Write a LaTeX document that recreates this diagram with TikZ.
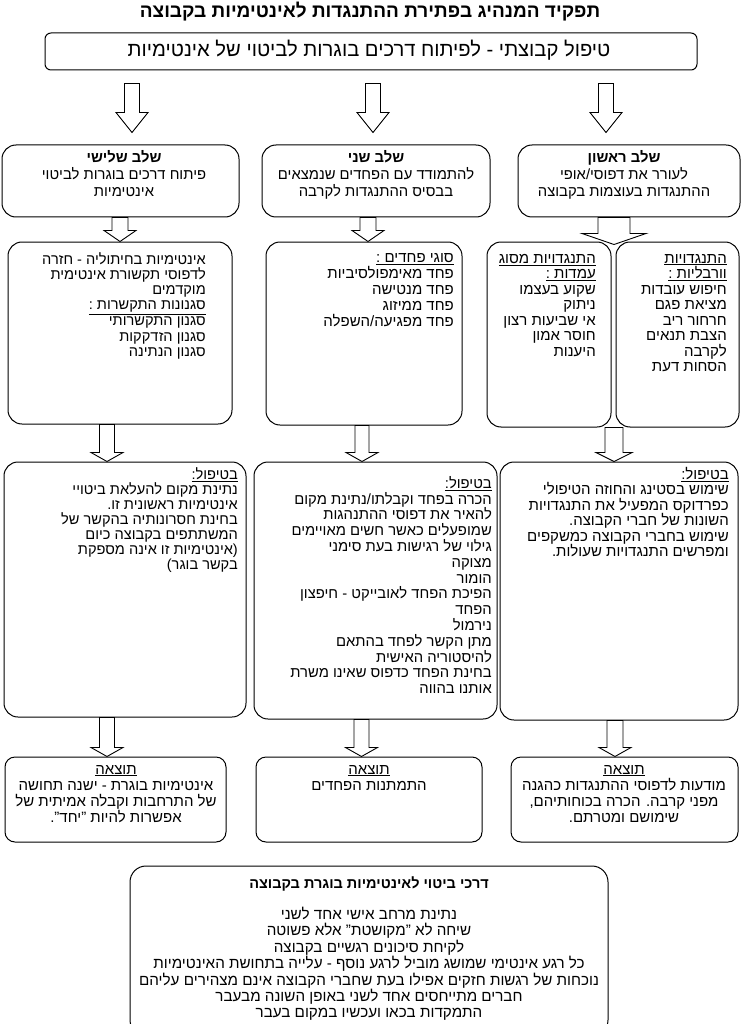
\documentclass[tikz,border=0pt]{standalone}
\usepackage{fontspec}
\setmainfont[Script=Hebrew]{Liberation Sans}
\TeXXeTstate=1
\usetikzlibrary{calc}
\newcommand\rl[1]{\beginR #1\endR}
\newcommand\ul[1]{\underline{\beginR #1\endR}}
\newcommand\blockarr[8]{%
  \draw[blockarrow] let \p1=(#1), \p2=(#2) in
   ({#3pt-#4pt},{\y1-#7pt}) -- ({#3pt-#4pt},{\y2+#8pt+#6pt}) -- ({#3pt-#5pt},{\y2+#8pt+#6pt})
   -- ({#3pt},{\y2+#8pt}) -- ({#3pt+#5pt},{\y2+#8pt+#6pt}) -- ({#3pt+#4pt},{\y2+#8pt+#6pt})
   -- ({#3pt+#4pt},{\y1-#7pt}) -- cycle;}
\tikzset{
  box/.style={draw, line width=1pt, rounded corners=14pt, inner sep=0pt, fill=white},
  txt/.style={inner sep=0pt, align=right, anchor=north east, font=\fontsize{15}{15.5}\selectfont},
  ctxt/.style={inner sep=0pt, align=center, anchor=north, font=\fontsize{14.8}{17}\selectfont},
  blockarrow/.style={draw, line width=0.9pt, fill=white, line join=miter},
}
\begin{document}
\begin{tikzpicture}[x=1pt,y=-1pt]
\useasboundingbox[fill=white] (0,0) rectangle (741,1024);
% title
\node[inner sep=0pt, font=\fontsize{19}{22}\selectfont\bfseries] (title) at (370,12) {\rl{תפקיד המנהיג בפתירת ההתנגדות לאינטימיות בקבוצה}};
% top box
\node[box, rounded corners=6pt, minimum width=652pt, minimum height=37pt] (top) at (371,51.5) {};
\node[inner sep=0pt, font=\fontsize{20.2}{22}\selectfont] (toptxt) at (369,50) {\rl{טיפול קבוצתי - לפיתוח דרכים בוגרות לביטוי של אינטימיות}};
% stage boxes
\node[box, minimum width=237pt, minimum height=72pt] (s3) at (120.5,181) {};
\node[box, minimum width=228pt, minimum height=72pt] (s2) at (376,181) {};
\node[box, minimum width=222pt, minimum height=72pt] (s1) at (629,181) {};
\node[ctxt] (s3t) at (124,150) {\textbf{\rl{שלב שלישי}}\\ \rl{פיתוח דרכים בוגרות לביטוי}\\ \rl{אינטימיות}};
\node[ctxt] (s2t) at (376,150) {\textbf{\rl{שלב שני}}\\ \rl{להתמודד עם הפחדים שנמצאים}\\ \rl{בבסיס ההתנגדות לקרבה}};
\node[ctxt] (s1t) at (624,150) {\textbf{\rl{שלב ראשון}}\\ \rl{לעורר את דפוסי/אופי}\\ \rl{ההתנגדות בעוצמות בקבוצה}};
% top arrows
\blockarr{top.south}{s3.north}{132}{7.5}{16}{20}{13}{12}
\blockarr{top.south}{s2.north}{373}{7.5}{16}{20}{13}{12}
\blockarr{top.south}{s1.north}{606}{7.5}{16}{20}{13}{12}
% row 2
\node[box, minimum width=224pt, minimum height=182pt] (a3) at (120,333) {};
\node[box, minimum width=196pt, minimum height=183pt] (a2) at (364,333.5) {};
\node[box, minimum width=124pt, minimum height=185pt] (a1s) at (549,334.5) {};
\node[box, minimum width=123pt, minimum height=185pt] (a1v) at (677.5,334.5) {};
\node[txt, font=\fontsize{14.6}{15.2}\selectfont] (a3t) at (206,252) {\rl{אינטימיות בחיתוליה - חזרה}\\ \rl{לדפוסי תקשורת אינטימית}\\ \rl{מוקדמים}\\ \ul{סגנונות התקשרות :}\\[1pt] \rl{סגנון התקשרותי}\\ \rl{סגנון הזדקקות}\\ \rl{סגנון הנתינה}};
\node[txt, font=\fontsize{15}{16}\selectfont] (a2t) at (454,253) {\ul{סוגי פחדים :}\\ \rl{פחד מאימפולסיביות}\\ \rl{פחד מנטישה}\\ \rl{פחד ממיזוג}\\ \rl{פחד מפגיעה/השפלה}};
\node[txt] (a1st) at (596,254) {\ul{התנגדויות מסוג}\\ \ul{עמדות :}\\ \rl{שקוע בעצמו}\\ \rl{ניתוק}\\ \rl{אי שביעות רצון}\\ \rl{חוסר אמון}\\ \rl{היענות}};
\node[txt] (a1vt) at (727,254) {\ul{התנגדויות}\\ \ul{וורבליות :}\\ \rl{חיפוש עובדות}\\ \rl{מציאת פגם}\\ \rl{חרחור ריב}\\ \rl{הצבת תנאים}\\ \rl{לקרבה}\\ \rl{הסחות דעת}};
% arrows stage -> row 2
\blockarr{s3.south}{a3.north}{120}{8}{16}{11}{0}{0}
\blockarr{s2.south}{a2.north}{368}{8}{16}{11}{0}{0}
\blockarr{s1.south}{a1s.north east}{614}{16}{32}{11}{0}{-3}
% row 3
\node[box, minimum width=242pt, minimum height=255pt] (t3) at (125,589.5) {};
\node[box, minimum width=243pt, minimum height=257pt] (t2) at (375.5,590.5) {};
\node[box, minimum width=238pt, minimum height=258pt] (t1) at (619,591) {};
\node[txt, font=\fontsize{14.6}{15}\selectfont] (t3t) at (238,467) {\ul{בטיפול:}\\ \rl{נתינת מקום להעלאת ביטויי}\\ \rl{אינטימיות ראשונית זו.}\\ \rl{בחינת חסרונותיה בהקשר של}\\ \rl{המשתתפים בקבוצה כיום}\\ \rl{(אינטימיות זו אינה מספקת}\\ \rl{בקשר בוגר)}};
\node[txt, font=\fontsize{14.8}{15.8}\selectfont] (t2t) at (492,476) {\ul{בטיפול:}\\ \rl{הכרה בפחד וקבלתו/נתינת מקום}\\ \rl{להאיר את דפוסי ההתנהגות}\\ \rl{שמופעלים כאשר חשים מאויימים}\\ \rl{גילוי של רגישות בעת סימני}\\ \rl{מצוקה}\\ \rl{הומור}\\ \rl{הפיכת הפחד לאובייקט - חיפצון}\\ \rl{הפחד}\\ \rl{נירמול}\\ \rl{מתן הקשר לפחד בהתאם}\\ \rl{להיסטוריה האישית}\\ \rl{בחינת הפחד כדפוס שאינו משרת}\\ \rl{אותנו בהווה}};
\node[txt, font=\fontsize{15}{15.5}\selectfont] (t1t) at (729,467) {\ul{בטיפול:}\\ \rl{שימוש בסטינג והחוזה הטיפולי}\\ \rl{כפרדוקס המפעיל את התנגדויות}\\ \rl{השונות של חברי הקבוצה.}\\ \rl{שימוש בחברי הקבוצה כמשקפים}\\ \rl{ומפרשים התנגדויות שעולות.}};
% arrows row2 -> row3
\blockarr{a3.south}{t3.north}{107}{7.5}{16}{9}{0}{0}
\blockarr{a2.south}{t2.north}{362}{7}{16}{9}{0}{0}
\blockarr{a1s.south east}{t1.north}{614}{9}{18}{9}{0}{0}
% row 4
\node[box, rounded corners=10pt, minimum width=221pt, minimum height=85pt] (o3) at (115.5,799.5) {};
\node[box, rounded corners=10pt, minimum width=226pt, minimum height=85pt] (o2) at (369,799.5) {};
\node[box, rounded corners=10pt, minimum width=227pt, minimum height=85pt] (o1) at (624.5,799.5) {};
\node[ctxt, font=\fontsize{15}{16}\selectfont] (o3t) at (116,765) {\ul{תוצאה}\\ \rl{אינטימיות בוגרת - ישנה תחושה}\\ \rl{של התרחבות וקבלה אמיתית של}\\ \rl{אפשרות להיות "יחד".}};
\node[ctxt, font=\fontsize{15}{16}\selectfont] (o2t) at (369,765) {\ul{תוצאה}\\ \rl{התמתנות הפחדים}};
\node[ctxt, font=\fontsize{15}{16}\selectfont] (o1t) at (624,765) {\ul{תוצאה}\\ \rl{מודעות לדפוסי ההתנגדות כהגנה}\\ \rl{מפני קרבה. הכרה בכוחותיהם,}\\ \rl{שימושם ומטרתם.}};
% arrows row3 -> row4
\blockarr{t3.south}{o3.north}{107}{7.5}{16}{9}{0}{0}
\blockarr{t2.south}{o2.north}{361.5}{7.5}{16}{9}{0}{0}
\blockarr{t1.south}{o1.north}{615}{8}{16}{9}{0}{0}
% bottom box
\node[box, rounded corners=16pt, minimum width=478pt, minimum height=170pt] (bot) at (369,951) {};
\node[ctxt, font=\fontsize{14.5}{17}\selectfont\bfseries] (bott) at (369,877) {\rl{דרכי ביטוי לאינטימיות בוגרת בקבוצה}};
\node[ctxt, font=\fontsize{15.2}{16.4}\selectfont] (botl) at (369,907) {\rl{נתינת מרחב אישי אחד לשני}\\ \rl{שיחה לא "מקושטת" אלא פשוטה}\\ \rl{לקיחת סיכונים רגשיים בקבוצה}\\ \rl{כל רגע אינטימי שמושג מוביל לרגע נוסף - עלייה בתחושת האינטימיות}\\ \rl{נוכחות של רגשות חזקים אפילו בעת שחברי הקבוצה אינם מצהירים עליהם}\\ \rl{חברים מתייחסים אחד לשני באופן השונה מבעבר}\\ \rl{התמקדות בכאו ועכשיו במקום בעבר}};
\end{tikzpicture}
\end{document}
